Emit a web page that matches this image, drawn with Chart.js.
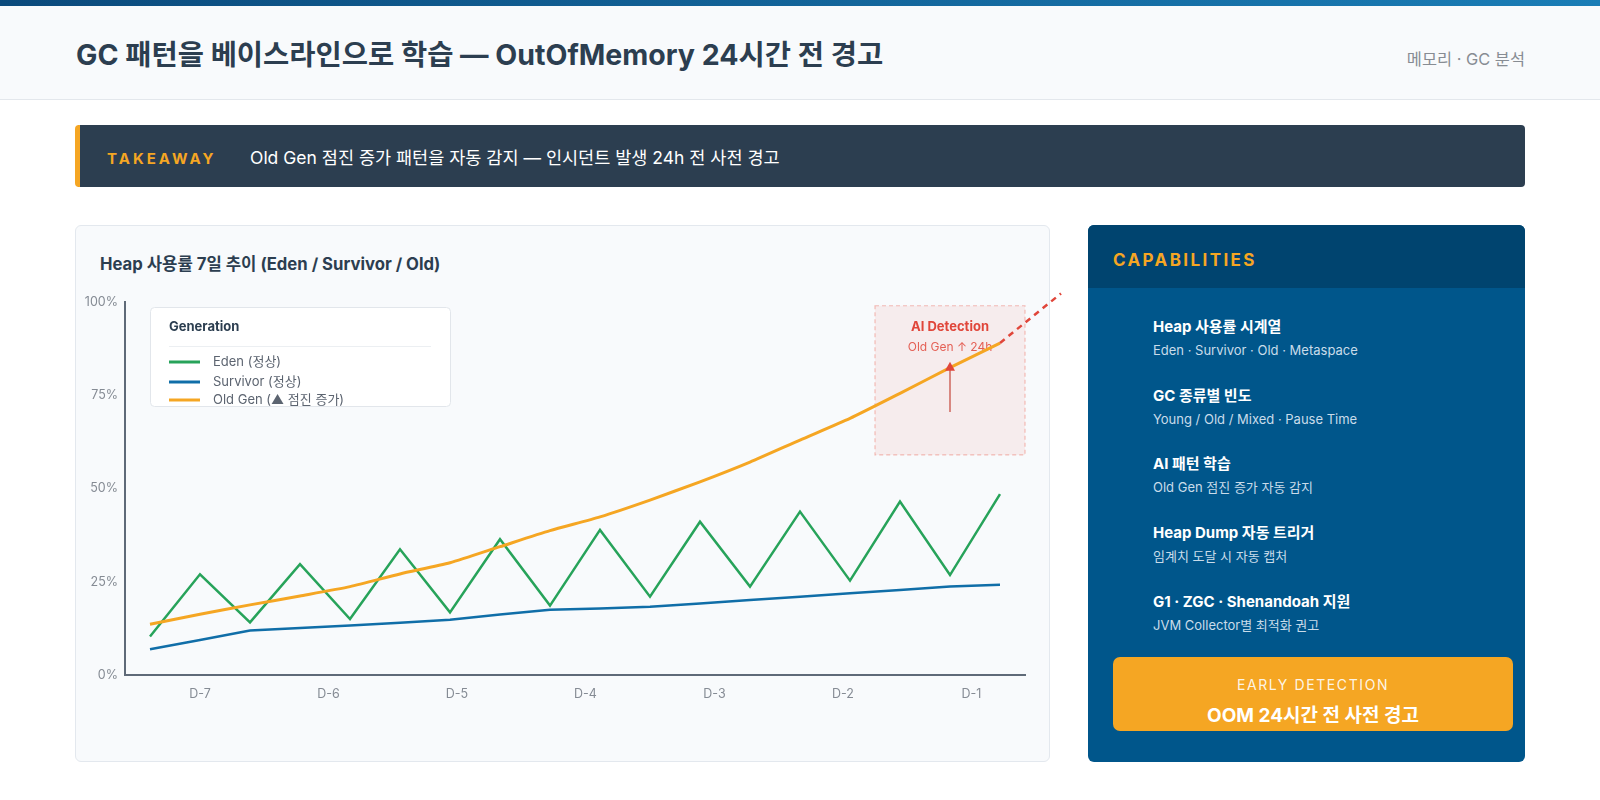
<!DOCTYPE html>
<html lang="ko">
<head>
<meta charset="utf-8">
<title>GC 패턴 베이스라인</title>
<script src="https://cdn.jsdelivr.net/npm/chart.js@4.4.1/dist/chart.umd.min.js"></script>
<style>
    body {
        margin: 0;
        width: 1600px;
        height: 800px;
        position: relative;
        overflow: hidden;
        background: #ffffff;
        font-family: Inter, "Noto Sans CJK KR", sans-serif;
        color: #2c3e50;
    }

    .top-bar {
        position: absolute;
        left: 0; top: 0;
        width: 1600px; height: 6px;
        background: linear-gradient(90deg, #0b4a7c, #1a7db6);
    }

    .header {
        position: absolute;
        left: 0; top: 6px;
        width: 1600px; height: 93px;
        background: #f8fafc;
        border-bottom: 1px solid #e3e7ec;
    }

    .header h1 {
        position: absolute;
        left: 76px; top: 34px;
        margin: 0;
        font-size: 28.5px;
        line-height: 30px;
        font-weight: 700;
        color: #2c3e50;
    }

    .header .tag {
        position: absolute;
        right: 75px; top: 43px;
        font-size: 16.4px;
        line-height: 20px;
        color: #878c93;
    }

    .takeaway {
        position: absolute;
        left: 75px; top: 125px;
        width: 1445px; height: 62px;
        background: #2c3e50;
        border-left: 5px solid #f5a623;
        border-radius: 4px;
    }

    .takeaway .label {
        position: absolute;
        left: 27px; top: 24px;
        font-size: 15px;
        line-height: 20px;
        font-weight: 700;
        letter-spacing: 3px;
        color: #f5a623;
    }

    .takeaway .text {
        position: absolute;
        left: 170px; top: 22px;
        font-size: 17.5px;
        line-height: 22px;
        color: #ffffff;
    }

    .chart-card {
        position: absolute;
        left: 75px; top: 225px;
        width: 973px; height: 535px;
        background: #f8fafc;
        border: 1px solid #e3e8ee;
        border-radius: 6px;
    }

    .chart-card h2 {
        position: absolute;
        left: 24px; top: 27px;
        margin: 0;
        font-size: 16.7px;
        line-height: 22px;
        font-weight: 700;
        color: #2c3e50;
    }

    .chart-box {
        position: absolute;
        left: 76px; top: 282px;
        width: 1000px; height: 460px;
    }

    .panel {
        position: absolute;
        left: 1088px; top: 225px;
        width: 437px; height: 537px;
        background: #00568b;
        border-radius: 6px;
        overflow: hidden;
    }

    .panel-head {
        height: 63px;
        background: #00446f;
        padding-left: 25px;
        font-size: 17px;
        line-height: 71px;
        font-weight: 700;
        letter-spacing: 2.4px;
        color: #f5a623;
    }

    .items {
        position: absolute;
        left: 65px; top: 92px;
    }

    .item {
        height: 68.7px;
    }

    .item .t {
        font-size: 15px;
        line-height: 20px;
        font-weight: 700;
        color: #ffffff;
    }

    .item .s {
        margin-top: 3px;
        font-size: 13px;
        line-height: 20px;
        color: #c9dcea;
    }

    .early {
        position: absolute;
        left: 25px; top: 432px;
        width: 400px; height: 74px;
        background: #f5a623;
        border-radius: 7px;
        text-align: center;
        color: #ffffff;
    }

    .early .k {
        margin-top: 18px;
        font-size: 14px;
        line-height: 20px;
        letter-spacing: 1.6px;
        color: rgba(255, 255, 255, 0.9);
    }

    .early .v {
        margin-top: 8px;
        font-size: 19px;
        line-height: 26px;
        font-weight: 700;
    }
</style>
</head>
<body>
    <div class="top-bar"></div>
    <div class="header">
        <h1>GC 패턴을 베이스라인으로 학습 — OutOfMemory 24시간 전 경고</h1>
        <div class="tag">메모리 · GC 분석</div>
    </div>

    <div class="takeaway">
        <div class="label">TAKEAWAY</div>
        <div class="text">Old Gen 점진 증가 패턴을 자동 감지 — 인시던트 발생 24h 전 사전 경고</div>
    </div>

    <div class="chart-card">
        <h2>Heap 사용률 7일 추이 (Eden / Survivor / Old)</h2>
    </div>
    <div class="chart-box"><canvas id="myChart"></canvas></div>

    <div class="panel">
        <div class="panel-head">CAPABILITIES</div>
        <div class="items">
            <div class="item"><div class="t">Heap 사용률 시계열</div><div class="s">Eden · Survivor · Old · Metaspace</div></div>
            <div class="item"><div class="t">GC 종류별 빈도</div><div class="s">Young / Old / Mixed · Pause Time</div></div>
            <div class="item"><div class="t">AI 패턴 학습</div><div class="s">Old Gen 점진 증가 자동 감지</div></div>
            <div class="item"><div class="t">Heap Dump 자동 트리거</div><div class="s">임계치 도달 시 자동 캡처</div></div>
            <div class="item"><div class="t">G1 · ZGC · Shenandoah 지원</div><div class="s">JVM Collector별 최적화 권고</div></div>
        </div>
        <div class="early">
            <div class="k">EARLY DETECTION</div>
            <div class="v">OOM 24시간 전 사전 경고</div>
        </div>
    </div>

<script>
'use strict'

const FONT = 'Inter, "Noto Sans CJK KR", sans-serif'

// x: sample index (18 samples over 7 days), day labels sit between samples
const xLabels = ['D-7', 'D-6', 'D-5', 'D-4', 'D-3', 'D-2', 'D-1']
const xTickPos = [1, 3.57, 6.14, 8.71, 11.29, 13.86, 16.43]

const edenData = [10.3, 27.0, 14.1, 29.7, 15.0, 33.7, 16.8, 36.4, 18.6, 38.9, 21.0, 41.1, 23.7, 43.8, 25.3, 46.5, 26.8, 48.5]
const survivorData = [6.9, 9.4, 11.9, 12.6, 13.3, 14.0, 14.8, 16.2, 17.5, 17.8, 18.3, 19.2, 20.1, 21.0, 21.9, 22.8, 23.7, 24.2]
const oldGenData = [13.6, 16.3, 18.8, 21.2, 23.7, 27.1, 30.1, 34.4, 38.7, 42.4, 46.9, 51.8, 57.1, 63.0, 68.8, 75.5, 82.4, 89.0]

// projected Old Gen trend past the last sample
const forecastX = [17, 18.22]
const forecastY = [89.0, 102.3]

// AI detection window (x: sample index, y: percent)
const detectX = [14.5, 17.5]
const detectY = [59, 99]
const arrowFromY = 70.5
const arrowAt = 16

const yTicks = [0, 25, 50, 75, 100]

function toPoints(values) {
    return values.map((v, i) => ({ x: i, y: v }))
}

const overlayPlugin = {
    id: 'overlay',
    beforeDatasetsDraw(chart) {
        const { ctx } = chart
        const x = chart.scales.x
        const y = chart.scales.y
        const left = x.getPixelForValue(detectX[0])
        const right = x.getPixelForValue(detectX[1])
        const top = y.getPixelForValue(detectY[1])
        const bottom = y.getPixelForValue(detectY[0])
        const cx = (left + right) / 2

        ctx.save()
        ctx.fillStyle = 'rgba(231, 76, 60, 0.08)'
        ctx.fillRect(left, top, right - left, bottom - top)
        ctx.setLineDash([4, 3])
        ctx.strokeStyle = 'rgba(231, 76, 60, 0.35)'
        ctx.lineWidth = 1.2
        ctx.strokeRect(left, top, right - left, bottom - top)

        ctx.textAlign = 'center'
        ctx.textBaseline = 'middle'
        ctx.fillStyle = '#e0463a'
        ctx.font = '700 13px ' + FONT
        ctx.fillText('AI Detection', cx, top + 21)
        ctx.fillStyle = 'rgba(224, 70, 58, 0.85)'
        ctx.font = '400 12px ' + FONT
        ctx.fillText('Old Gen ↑ 24h', cx, top + 42)
        ctx.restore()
    },
    afterDatasetsDraw(chart) {
        const { ctx, chartArea } = chart
        const x = chart.scales.x
        const y = chart.scales.y

        // arrow to the Old Gen line
        const ax = x.getPixelForValue(arrowAt)
        const tipY = y.getPixelForValue(oldGenData[arrowAt]) - 6
        const fromY = y.getPixelForValue(arrowFromY)
        ctx.save()
        ctx.strokeStyle = 'rgba(192, 57, 43, 0.75)'
        ctx.lineWidth = 1.5
        ctx.beginPath()
        ctx.moveTo(ax, fromY)
        ctx.lineTo(ax, tipY + 8)
        ctx.stroke()
        ctx.fillStyle = '#e0463a'
        ctx.beginPath()
        ctx.moveTo(ax, tipY)
        ctx.lineTo(ax - 5, tipY + 9)
        ctx.lineTo(ax + 5, tipY + 9)
        ctx.closePath()
        ctx.fill()
        ctx.restore()

        // legend box
        const lx = chartArea.left + 25
        const ly = chartArea.top + 5
        ctx.save()
        ctx.fillStyle = '#ffffff'
        ctx.strokeStyle = '#e2e6eb'
        ctx.lineWidth = 1
        ctx.beginPath()
        ctx.roundRect(lx + 0.5, ly + 0.5, 300, 99, 4)
        ctx.fill()
        ctx.stroke()

        ctx.textAlign = 'left'
        ctx.textBaseline = 'middle'
        ctx.fillStyle = '#2c3e50'
        ctx.font = '700 13px ' + FONT
        ctx.fillText('Generation', lx + 19, ly + 20)
        ctx.strokeStyle = '#eceff2'
        ctx.beginPath()
        ctx.moveTo(lx + 19, ly + 39.5)
        ctx.lineTo(lx + 281, ly + 39.5)
        ctx.stroke()

        const rows = [55, 75, 93]
        chart.data.datasets.slice(0, 3).forEach((ds, i) => {
            ctx.strokeStyle = ds.borderColor
            ctx.lineWidth = 3
            ctx.beginPath()
            ctx.moveTo(lx + 19, ly + rows[i])
            ctx.lineTo(lx + 50, ly + rows[i])
            ctx.stroke()
            ctx.fillStyle = '#5c6470'
            ctx.font = '400 13px ' + FONT
            ctx.fillText(ds.label, lx + 63, ly + rows[i])
        })
        ctx.restore()
    }
}

function renderChart() {
    const ctx = document.getElementById('myChart')
    Chart.defaults.font.family = FONT

    new Chart(ctx, {
        type: 'line',
        data: {
            datasets: [{
                label: 'Eden (정상)',
                data: toPoints(edenData),
                borderColor: '#27a35a',
                borderWidth: 2.5,
                tension: 0,
                order: 2
            }, {
                label: 'Survivor (정상)',
                data: toPoints(survivorData),
                borderColor: '#106ea8',
                borderWidth: 2.5,
                tension: 0,
                order: 3
            }, {
                label: 'Old Gen (▲ 점진 증가)',
                data: toPoints(oldGenData),
                borderColor: '#f5a623',
                borderWidth: 3,
                tension: 0.2,
                order: 1
            }, {
                label: 'forecast',
                data: forecastX.map((v, i) => ({ x: v, y: forecastY[i] })),
                borderColor: '#e0463a',
                borderWidth: 2.5,
                borderDash: [6, 5],
                clip: false,
                order: 0
            }]
        },
        options: {
            responsive: true,
            maintainAspectRatio: false,
            animation: false,
            elements: { point: { radius: 0, hoverRadius: 0 } },
            layout: { padding: { top: 20, right: 51, left: 0, bottom: 0 } },
            plugins: {
                legend: { display: false },
                tooltip: { enabled: false }
            },
            scales: {
                x: {
                    type: 'linear',
                    min: -0.5,
                    max: 17.5,
                    afterBuildTicks: axis => {
                        axis.ticks = xTickPos.map(v => ({ value: v }))
                    },
                    afterFit: axis => { axis.height = 67 },
                    grid: { display: false, drawTicks: false },
                    border: { color: '#5f6a78', width: 2 },
                    ticks: {
                        autoSkip: false,
                        maxRotation: 0,
                        padding: 12,
                        color: '#858b94',
                        font: { size: 12.5 },
                        callback: (value, idx) => xLabels[idx]
                    }
                },
                y: {
                    min: 0,
                    max: 100,
                    afterBuildTicks: axis => {
                        axis.ticks = yTicks.map(v => ({ value: v }))
                    },
                    afterFit: axis => { axis.width = 49 },
                    grid: { display: false, drawTicks: false },
                    border: { color: '#5f6a78', width: 2 },
                    ticks: {
                        padding: 7,
                        color: '#858b94',
                        font: { size: 12.5 },
                        callback: value => value + '%'
                    }
                }
            }
        },
        plugins: [overlayPlugin]
    })
}

renderChart()
</script>
</body>
</html>
